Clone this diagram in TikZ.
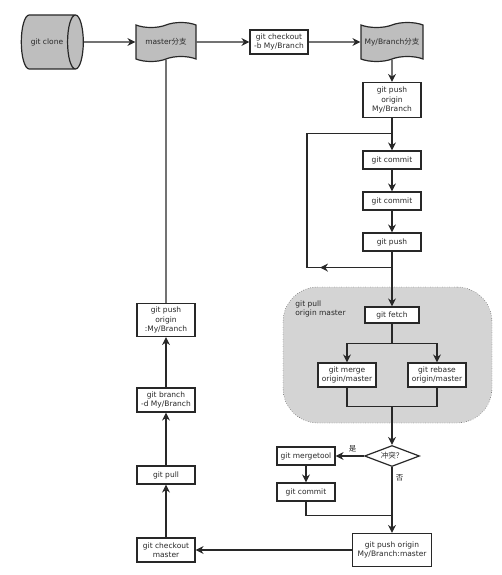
\documentclass[tikz,border=0pt]{standalone}
\usepackage{fontspec}
\setmainfont{DejaVu Sans}
\newfontfamily\cjk{Noto Sans CJK SC}
\usetikzlibrary{positioning}
\usetikzlibrary{shapes.geometric, shapes.symbols}
\usetikzlibrary{backgrounds}
\usetikzlibrary{calc}
\usetikzlibrary{arrows.meta}
\definecolor{shapegray}{RGB}{190,190,190}
\definecolor{regiongray}{RGB}{212,212,212}
\definecolor{linegray}{RGB}{40,40,40}

\begin{document}
\begin{tikzpicture}[-{Stealth[length=8pt,width=8pt]}, node distance =40pt and 110pt, on grid, line width=1.2pt, draw=linegray,
font=\fontsize{7.5}{9.5}\selectfont, text=linegray,
box/.style ={rectangle, draw, fill=white, align=center, minimum width=58pt, minimum height=18pt, inner sep=2pt},
branch/.style ={tape, draw, fill=shapegray, minimum width=60pt, minimum height=39pt, inner sep=1pt},
repo/.style ={cylinder, draw, fill=shapegray, minimum width=54pt, minimum height=62pt, aspect=1.7, inner sep=1pt},
decision/.style ={diamond, draw, fill=white, minimum width=55pt, minimum height=21pt, inner sep=0pt, aspect=2.6},
noarrow/.style ={-}]
\useasboundingbox (0,0) rectangle (501pt,-575pt);
\node[repo] (clone) at (47pt,-42pt) {git clone};
\node[branch] (master) [right =119pt of clone]{master{\cjk 分支}};
\node[box, minimum height=24pt] (checkout) [right =113pt of master]{git checkout\\-b My/Branch};
\node[branch, minimum width=62pt] (mybr) [right =113pt of checkout]{My/Branch{\cjk 分支}};
\node[box, minimum height=35pt] (pushmy) [below =58pt of mybr]{git push\\origin\\My/Branch};
\node[box] (commitA) [below =60pt of pushmy]{git commit};
\node[box] (commitB) [below =41pt of commitA]{git commit};
\node[box] (pushB) [below =41pt of commitB]{git push};
\node[box, minimum width=54pt, minimum height=16pt] (fetch) [below =73pt of pushB]{git fetch};
\node[box, minimum height=24pt] (merge) [below left =60pt and 45pt of fetch]{git merge\\origin/master};
\node[box, minimum height=24pt] (rebase) [below right =60pt and 45pt of fetch]{git rebase\\origin/master};
\node[decision] (conflict) [below =141pt of fetch]{{\cjk 冲突？}};
\node[box] (mergetool) [left =86pt of conflict]{git mergetool};
\node[box] (commitC) [below =36pt of mergetool]{git commit};
\node[box, minimum width=79pt, minimum height=33pt] (pushmaster) [below =94pt of conflict]{git push origin\\My/Branch:master};
\node[box, minimum height=24pt] (checkoutm) [left =226pt of pushmaster]{git checkout\\master};
\node[box] (pull) [above =75pt of checkoutm]{git pull};
\node[box, minimum height=24pt] (branchd) [above =75pt of pull]{git branch\\-d My/Branch};
\node[box, minimum height=33pt] (pushdel) [above =80pt of branchd]{git push\\origin\\:My/Branch};
% pull = fetch + merge/rebase
\begin{scope}[on background layer]
\node[draw, dotted, thin, fill=regiongray, rounded corners=35pt, minimum width=209pt, minimum height=136pt] (pullreg) at ($(fetch)+(-4.5pt,-40pt)$){};
\end{scope}
\node[align=left, anchor=north west, inner sep=0pt] (pulllabel) at ($(pullreg.north west)+(12pt,-13pt)$){git pull\\origin master};
% connectors
\draw (clone) -- (master);
\draw (master) -- (checkout);
\draw (checkout) -- (mybr);
\draw (mybr) -- (pushmy);
\draw (pushmy) -- (commitA);
\draw (commitA) -- (commitB);
\draw (commitB) -- (pushB);
\coordinate (loopT) at ($(pushmy.south)+(0,-15pt)$);
\coordinate (loopB) at ($(pushB.south)+(0,-16pt)$);
\draw (pushB) -- (fetch);
\draw[noarrow] (loopB) -- ++(-85pt,0) |- (loopT);
\draw (loopB) -- ++(-72pt,0);
\coordinate (split) at ($(fetch.south)+(0,-20pt)$);
\draw[noarrow] (fetch) -- (split);
\draw (split) -| (merge);
\draw (split) -| (rebase);
\coordinate (join) at ($(merge.south -| fetch)+(0,-19pt)$);
\draw[noarrow] (merge) |- (join) -| (rebase);
\draw (join) -- (conflict);
\draw (conflict) -- node[above, pos=0.4]{{\cjk 是}} (mergetool);
\draw (mergetool) -- (commitC);
\coordinate (joinC) at ($(commitC.south -| conflict)+(0,-14pt)$);
\draw[noarrow] (commitC) |- (joinC);
\draw (conflict) -- node[right, pos=0.17]{{\cjk 否}} (pushmaster);
\draw (pushmaster) -- (checkoutm);
\draw (checkoutm) -- (pull);
\draw (pull) -- (branchd);
\draw (branchd) -- (pushdel);
\draw[noarrow] (pushdel) -- (master);
\end{tikzpicture}
\end{document}
